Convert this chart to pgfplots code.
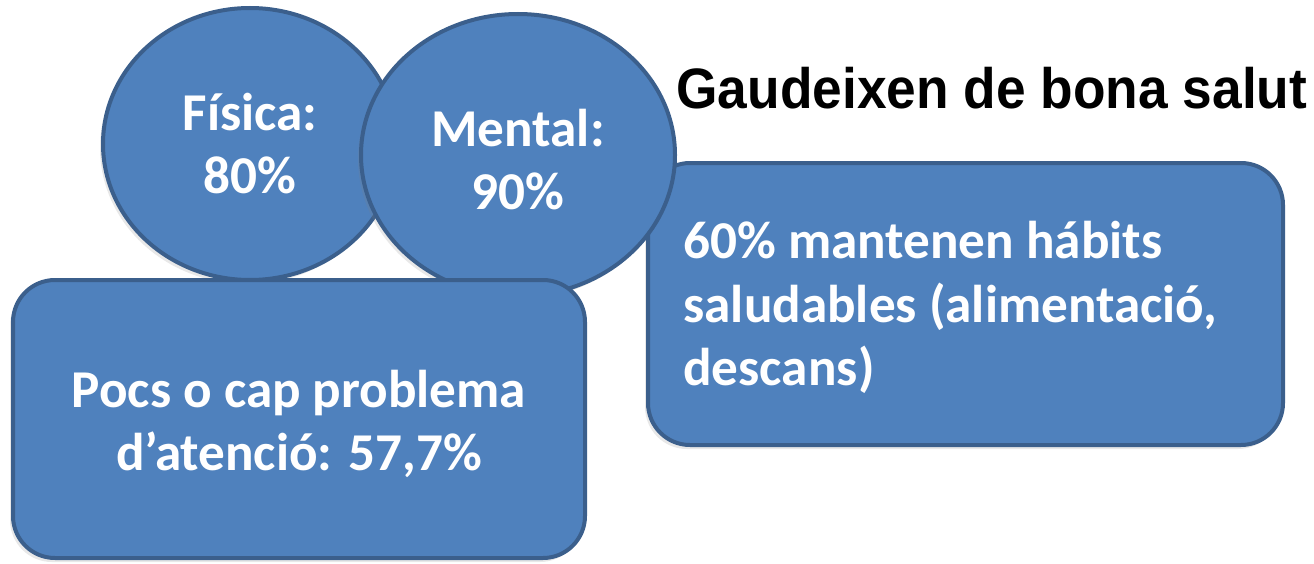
\documentclass[border=0pt]{standalone}
\usepackage{pgfplots}
\pgfplotsset{compat=1.18}
\usepackage{fontspec}
\setmainfont{Carlito}
\newfontfamily\arialfont{Liberation Sans}
\usetikzlibrary{shadows}
\definecolor{boxfill}{HTML}{4F81BD}
\definecolor{boxline}{HTML}{3B5F8C}
\tikzset{blueshape/.style={fill=boxfill, draw=boxline, line width=2bp,
  drop shadow={shadow xshift=-1.5bp, shadow yshift=-2bp, opacity=0.18}}}
\begin{document}
\begin{tikzpicture}
\begin{axis}[
  name=main,
  scale only axis, width=657bp, height=282bp,
  xmin=0, xmax=1314, ymin=0, ymax=564, y dir=reverse,
  hide axis, clip=false,
]
% right rounded box
\draw[blueshape, rounded corners=21bp] (axis cs:648,163) rectangle (axis cs:1283,445);
% ellipses
\draw[blueshape] (axis cs:250,144) ellipse [x radius=73.5bp, y radius=68bp];
\draw[blueshape] (axis cs:518,155) ellipse [x radius=78.5bp, y radius=70.5bp];
% left rounded box
\draw[blueshape, rounded corners=21bp] (axis cs:13,280) rectangle (axis cs:585,558);
% texts
\begin{scope}[every node/.style={text=white, font=\fontsize{26.6bp}{32bp}\selectfont\bfseries, inner sep=0pt}]
\node[anchor=base] at (axis cs:250,130) {Física:};
\node[anchor=base] at (axis cs:250,193) {80\%};
\node[anchor=base] at (axis cs:518,146) {Mental:};
\node[anchor=base] at (axis cs:518,209) {90\%};
\node[anchor=base west] at (axis cs:683,258) {60\% mantenen hábits};
\node[anchor=base west] at (axis cs:683,322) {saludables (alimentació,};
\node[anchor=base west] at (axis cs:683,385) {descans)};
\node[anchor=base] at (axis cs:299,407) {Pocs o cap problema};
\node[anchor=base] at (axis cs:299,470) {d’atenció: 57,7\%};
\end{scope}
\node[anchor=base west, inner sep=0pt, font=\arialfont\fontsize{28.5bp}{34bp}\selectfont\bfseries] at (axis cs:676,108) {\scalebox{0.935}[1]{Gaudeixen de bona salut}};
\end{axis}
\pgfresetboundingbox
\path[use as bounding box] (main.south west) rectangle (main.north east);
\end{tikzpicture}
\end{document}
